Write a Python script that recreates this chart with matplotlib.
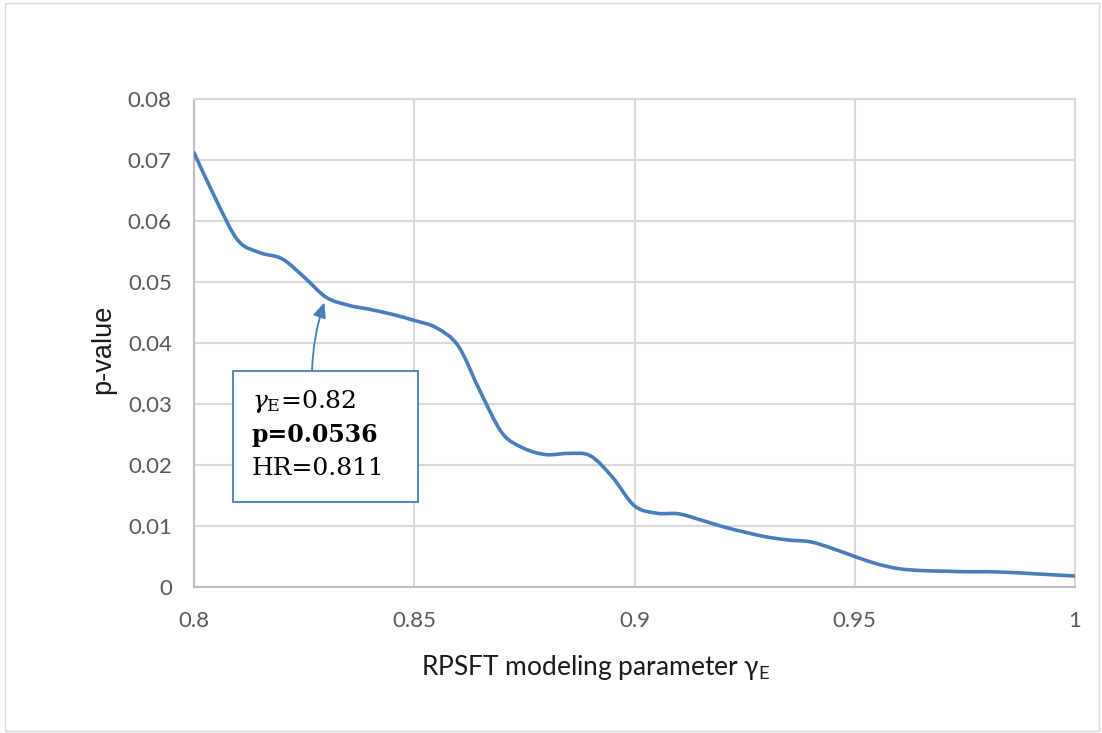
import matplotlib
matplotlib.use("Agg")
import matplotlib.pyplot as plt
from matplotlib.path import Path
from matplotlib.patches import PathPatch, Rectangle
import numpy as np

# values (gamma_E vs p-value)
gamma = [0.800, 0.805, 0.810, 0.815, 0.820, 0.825, 0.830, 0.835, 0.840, 0.845,
         0.850, 0.855, 0.860, 0.865, 0.870, 0.875, 0.880, 0.885, 0.890, 0.895,
         0.900, 0.905, 0.910, 0.915, 0.920, 0.925, 0.930, 0.935, 0.940, 0.945,
         0.950, 0.955, 0.960, 0.965, 0.970, 0.975, 0.980, 0.985, 0.990, 0.995,
         1.000]
pval = [0.0712, 0.0635, 0.0568, 0.0548, 0.0538, 0.0508, 0.0475, 0.0462, 0.0455, 0.0447,
        0.0437, 0.0425, 0.0395, 0.0320, 0.0252, 0.0227, 0.0217, 0.0219, 0.0215, 0.0180,
        0.0133, 0.0121, 0.0120, 0.0110, 0.0099, 0.0090, 0.0082, 0.0077, 0.0074, 0.0063,
        0.0050, 0.0038, 0.0030, 0.0027, 0.0026, 0.0025, 0.0025, 0.0024, 0.0022, 0.0020,
        0.0018]
xticks = [0.8, 0.85, 0.9, 0.95, 1.0]
xticklabels = ["0.8", "0.85", "0.9", "0.95", "1"]
yticks = [0, 0.01, 0.02, 0.03, 0.04, 0.05, 0.06, 0.07, 0.08]
yticklabels = ["0", "0.01", "0.02", "0.03", "0.04", "0.05", "0.06", "0.07", "0.08"]

plt.rcParams['font.family'] = ['Lato', 'DejaVu Sans']
plt.rcParams['mathtext.fontset'] = 'custom'
plt.rcParams['mathtext.rm'] = 'DejaVu Serif'
plt.rcParams['mathtext.it'] = 'DejaVu Serif:italic'
plt.rcParams['mathtext.sf'] = 'Lato'

W, H = 1102, 733
fig = plt.figure(figsize=(W / 100, H / 100), dpi=100)
ax = fig.add_axes([194 / W, 1 - 587 / H, (1075 - 194) / W, (587 - 99) / H])

line_col = '#4a7ebb'
grid_col = '#d9d9d9'

# smooth line like excel (catmull-rom -> bezier)
pts = np.column_stack([gamma, pval])
n = len(pts)
verts = [pts[0]]
codes = [Path.MOVETO]
for i in range(n - 1):
    p0 = pts[i - 1] if i > 0 else pts[i]
    p1 = pts[i]
    p2 = pts[i + 1]
    p3 = pts[i + 2] if i + 2 < n else pts[i + 1]
    verts += [p1 + (p2 - p0) / 6, p2 - (p3 - p1) / 6, p2]
    codes += [Path.CURVE4] * 3
ax.add_patch(PathPatch(Path(verts, codes), facecolor='none', edgecolor=line_col,
                       lw=2.6, capstyle='round', zorder=3))

ax.set_xlim(0.8, 1.0)
ax.set_ylim(0, 0.08)
ax.set_xticks(xticks)
ax.set_xticklabels(xticklabels)
ax.set_yticks(yticks)
ax.set_yticklabels(yticklabels)
ax.tick_params(length=0, labelsize=16, labelcolor='#595959')
ax.tick_params(axis='x', pad=17)
ax.tick_params(axis='y', pad=16)
ax.grid(True, color=grid_col, lw=1.5)
ax.set_axisbelow(True)
for s in ['top', 'right']:
    ax.spines[s].set_color(grid_col)
    ax.spines[s].set_linewidth(1.5)
for s in ['bottom', 'left']:
    ax.spines[s].set_color('#bfbfbf')
    ax.spines[s].set_linewidth(1.5)

ax.set_ylabel('p-value', fontsize=19.5, color='#1a1a1a', family='Liberation Sans',
              ha='center', va='center')
ax.yaxis.set_label_coords(-0.1033, 0.4877)
ax.set_xlabel('RPSFT modeling parameter γ$_\\mathsf{E}$', fontsize=19,
              color='#1a1a1a', ha='center', va='center')
ax.xaxis.set_label_coords(0.456, -0.164)

# annotation box
def fx(px):
    return px / W

def fy(py):
    return 1 - py / H

fig.patches.append(Rectangle((fx(233), fy(502)), fx(418) - fx(233), (502 - 371) / H,
                             transform=fig.transFigure, facecolor='white',
                             edgecolor=line_col, lw=1.3, zorder=5))
serif = 'DejaVu Serif'
fig.text(fx(252), fy(408), '$\\gamma_{\\mathrm{E}}$=0.82', family=serif, fontsize=18,
         va='baseline', zorder=6)
fig.text(fx(252), fy(442), 'p=0.0536', family=serif, fontsize=17, weight='bold',
         va='baseline', zorder=6)
fig.text(fx(252), fy(475), 'HR=0.811', family=serif, fontsize=18,
         va='baseline', zorder=6)

ax.annotate('', xy=(gamma[6], pval[6]), xycoords='data',
            xytext=(fx(312), fy(371)), textcoords='figure fraction',
            arrowprops=dict(arrowstyle='-|>,head_length=0.9,head_width=0.4',
                            color=line_col, lw=1.3, shrinkA=0, shrinkB=4,
                            connectionstyle='arc3,rad=-0.08'), zorder=6)

# outer chart border
fig.patches.append(Rectangle((fx(5), fy(731)), fx(1099) - fx(5), (731 - 3) / H,
                             transform=fig.transFigure, facecolor='none',
                             edgecolor='#d9d9d9', lw=1.0))

fig.savefig('out.png', dpi=100)
